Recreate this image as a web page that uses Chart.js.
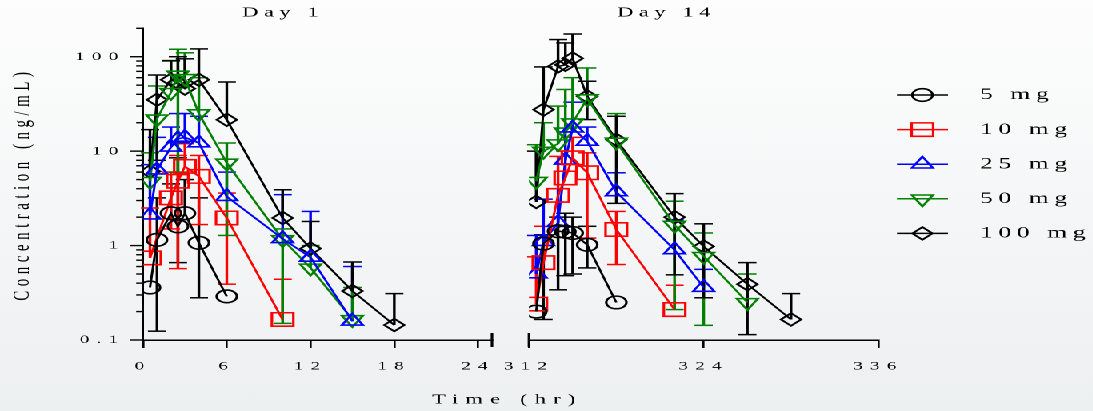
<!DOCTYPE html>
<html>
<head>
<meta charset="utf-8">
<script src="https://cdn.jsdelivr.net/npm/chart.js@4.4.1/dist/chart.umd.min.js"></script>
<style>
  html, body { margin: 0; padding: 0; }
  body { width: 1093px; height: 411px; overflow: hidden; background: linear-gradient(#fdfdfd, #edf0f1); }
  /* the reference is stretched sideways, so the plot is drawn narrow and widened */
  #wrap { position: absolute; left: 0; top: 0; width: 683px; height: 411px; transform: scaleX(1.6); transform-origin: 0 0; }
  #wrap canvas { position: absolute; left: 0; top: 0; }
</style>
</head>
<body>
<div id="wrap">
  <canvas id="day1" width="683" height="411"></canvas>
  <canvas id="day14" width="683" height="411"></canvas>
</div>
<script>
const doseLabels = ['5 mg', '10 mg', '25 mg', '50 mg', '100 mg'];
const doseColors = ['#000000', '#ff0000', '#0000ff', '#008000', '#000000'];
const doseMarkers = ['circle', 'rect', 'triangle', 'triangle', 'rectRot'];
const markerRotation = [0, 0, 0, 180, 0];
const markerRadius = [6.3, 9.5, 7.6, 7.6, 6.3];

const day1Hours = [0.5, 1, 2, 2.5, 3, 4, 6, 10, 12, 15, 18];
const day14Hours = [312.5, 313, 314, 314.5, 315, 316, 318, 322, 324, 327, 330];

// mean concentration (ng/mL), one row per dose
const day1Mean = [
  [0.36, 1.15, 2.2, 1.6, 2.2, 1.07, 0.29, null, null, null, null],
  [0.74, null, 3.2, 4.8, 6.9, 5.4, 1.96, 0.165, null, null, null],
  [2.1, 6.3, 11, 13.5, 14, 12.2, 3.3, 1.18, 0.75, 0.158, null],
  [4.8, 22, 42, 64, 59, 25, 7.5, 1.16, 0.58, 0.165, null],
  [6.1, 35, 57, 53, 46, 57, 21.5, 1.96, 0.93, 0.33, 0.144]
];
const day1Upper = [
  [null, 3.2, 4.5, 8.5, 5, 3.2, null, null, null, null, null],
  [2.5, null, 6, 9, 12, 9, 3.6, 0.44, null, null, null],
  [7.2, 14, 18, 25, 25, 23.4, 6, 3.46, 2.3, 0.6, null],
  [9.6, 49, 90, 120, 110, 60, 12.2, 1.5, 1.0, 0.36, null],
  [16.9, 64, 91, 100, 95, 121, 54, 3.9, 1.8, 0.67, 0.31]
];
const day1Lower = [
  [null, 0.124, null, 0.66, null, 0.28, null, null, null, null, null],
  [null, null, 1.5, 0.57, null, 1.67, 0.39, null, null, null, null],
  [null, null, null, null, null, null, null, null, null, null, null],
  [null, null, null, 6, null, null, 1.28, 0.15, null, null, null],
  [null, 8, null, null, null, null, null, null, null, null, null]
];

const day14Mean = [
  [0.2, 1.05, 1.42, 1.4, 1.36, 1.02, 0.25, null, null, null, null],
  [0.24, 0.66, 3.4, 5.2, 8.5, 5.9, 1.48, 0.21, null, null, null],
  [0.5, 1.1, 1.75, 8, 17.5, 12.7, 3.7, 0.9, 0.36, null, null],
  [4.8, 10, 12, 16, 20, 36, 12.5, 1.65, 0.77, 0.25, null],
  [2.9, 27.5, 79, 82, 96, 38, 13.2, 2.0, 0.98, 0.39, 0.165]
];
const day14Upper = [
  [null, 1.3, 2.0, 2.2, 2.0, 1.6, null, null, null, null, null],
  [0.76, 1.6, 8.8, 10, 14, 9.6, 2.3, 0.38, null, null, null],
  [1.28, 3.1, 4, 16, 33, 18, 5.9, 1.88, 0.56, null, null],
  [11.7, 20, 30, 45, 60, 76, 25, 2.95, 1.36, 0.5, null],
  [10, 78, 152, 140, 174, 55, 23.4, 3.55, 1.7, 0.66, 0.31]
];
const day14Lower = [
  [null, 0.165, 0.34, 0.48, 0.5, 0.58, null, null, null, null, null],
  [null, null, null, null, null, 1.2, 0.63, null, null, null, null],
  [null, null, null, null, null, null, null, null, null, null, null],
  [null, null, null, null, null, null, null, 0.21, 0.143, null, null],
  [null, null, null, null, null, 21.6, 2.8, 0.49, 0.28, 0.114, null]
];

const day1Ticks = [0, 6, 12, 18, 24];
const day14Ticks = [312, 324, 336];
const yMajorTicks = [0.1, 1, 10, 100];
const yMajorLabels = ['0.1', '1', '10', '100'];

const serif = "'Liberation Serif', 'Times New Roman', serif";
const W = 683;

function yTickValues() {
  const out = [];
  yMajorTicks.forEach(d => {
    for (let k = 1; k <= 9; k++) {
      if (d * k <= 200) out.push(d * k);
    }
  });
  return out;
}

function makeSets(times, mean) {
  return doseLabels.map((label, i) => ({
    label: label,
    data: times.map((t, j) => ({ x: t, y: mean[i][j] })),
    borderColor: doseColors[i],
    borderWidth: 1.5,
    pointStyle: doseMarkers[i],
    pointRotation: markerRotation[i],
    pointRadius: markerRadius[i],
    pointBorderWidth: 1.6,
    pointBorderColor: doseColors[i],
    pointBackgroundColor: 'rgba(0,0,0,0)',
    spanGaps: true,
    tension: 0
  }));
}

function drawLabel(ctx, text, x, y, size, spacing, align) {
  ctx.save();
  ctx.font = size + 'px ' + serif;
  ctx.letterSpacing = spacing + 'px';
  ctx.fillStyle = '#000';
  ctx.textAlign = align;
  ctx.textBaseline = 'middle';
  ctx.fillText(text, x, y);
  ctx.restore();
}

const spacingPlugin = {
  id: 'spacing',
  beforeLayout(chart) { chart.ctx.letterSpacing = '4.5px'; },
  beforeDraw(chart) { chart.ctx.letterSpacing = '4.5px'; }
};

function errorBars(times, mean, upper, lower) {
  return {
    id: 'errorBars',
    beforeDatasetsDraw(chart) {
      const { ctx, scales: { x, y } } = chart;
      ctx.save();
      doseLabels.forEach((label, i) => {
        ctx.strokeStyle = doseColors[i];
        times.forEach((t, j) => {
          const m = mean[i][j];
          if (m == null) return;
          const px = x.getPixelForValue(t);
          const pm = y.getPixelForValue(m);
          [upper[i][j], lower[i][j]].forEach(v => {
            if (v == null) return;
            const pv = y.getPixelForValue(v);
            ctx.lineWidth = 1.7;
            ctx.beginPath();
            ctx.moveTo(px, pm);
            ctx.lineTo(px, pv);
            ctx.stroke();
            ctx.lineWidth = 1.5;
            ctx.beginPath();
            ctx.moveTo(px - 5.7, pv);
            ctx.lineTo(px + 5.7, pv);
            ctx.stroke();
          });
        });
      });
      ctx.restore();
    }
  };
}

function panelDecor(cfg) {
  return {
    id: 'panelDecor',
    afterDraw(chart) {
      const { ctx, scales: { x, y } } = chart;
      const bottom = chart.chartArea.bottom;
      ctx.save();
      ctx.strokeStyle = '#000';
      ctx.lineWidth = 1.6;
      const bx = x.getPixelForValue(cfg.breakAt);
      ctx.beginPath();
      ctx.moveTo(bx, bottom - 7);
      ctx.lineTo(bx, bottom + 7);
      ctx.stroke();

      if (cfg.yTicks) {
        const left = chart.chartArea.left;
        ctx.lineWidth = 1.4;
        yTickValues().forEach(v => {
          const major = yMajorTicks.some(m => Math.abs(m - v) < 1e-9);
          const py = y.getPixelForValue(v);
          ctx.beginPath();
          ctx.moveTo(left - (major ? 8.3 : 4.3), py);
          ctx.lineTo(left, py);
          ctx.stroke();
        });
      }

      drawLabel(ctx, cfg.title, cfg.titleX, 13, 14, 3.5, 'center');

      if (cfg.legend) {
        doseLabels.forEach((label, i) => {
          const ly = 95 + i * 34.6;
          ctx.strokeStyle = doseColors[i];
          ctx.lineWidth = 1.5;
          ctx.beginPath();
          ctx.moveTo(560.6, ly);
          ctx.lineTo(592.5, ly);
          ctx.stroke();
          ctx.fillStyle = 'rgba(0,0,0,0)';
          ctx.lineWidth = 1.6;
          Chart.helpers.drawPoint(ctx, {
            pointStyle: doseMarkers[i],
            rotation: markerRotation[i],
            radius: markerRadius[i],
            borderWidth: 1.6
          }, 576.5, ly);
          drawLabel(ctx, label, 612.5, ly, 16, 3.5, 'left');
        });
        drawLabel(ctx, 'Time (hr)', 317, 400, 14, 4.5, 'center');
      }
      ctx.restore();
    }
  };
}

function xScale(min, max, ticks) {
  return {
    type: 'linear',
    min: min,
    max: max,
    afterBuildTicks: s => { s.ticks = ticks.map(v => ({ value: v })); },
    afterFit: s => { s.height = 41; },
    grid: { display: true, drawOnChartArea: false, drawTicks: true, tickLength: 8, color: '#000', lineWidth: 1.3 },
    border: { display: true, color: '#000', width: 1.5 },
    ticks: {
      autoSkip: false, maxRotation: 0, padding: 11, color: '#000',
      font: { family: serif, size: 12 },
      callback: v => String(v)
    }
  };
}

function yScale(show) {
  return {
    type: 'logarithmic',
    display: show,
    min: 0.1,
    max: 200,
    afterBuildTicks: s => { s.ticks = yTickValues().map(v => ({ value: v })); },
    afterFit: s => { s.width = show ? 89.4 : 0; },
    grid: { display: false, drawTicks: true, tickLength: 8 },
    border: { display: true, color: '#000', width: 1.5 },
    ticks: {
      autoSkip: false, padding: 3, color: '#000',
      font: { family: serif, size: 12 },
      callback: v => {
        const i = yMajorTicks.findIndex(m => Math.abs(m - v) < 1e-9);
        return i >= 0 ? yMajorLabels[i] : '';
      }
    },
    title: {
      display: true, text: 'Concentration (ng/mL)', color: '#000',
      font: { family: serif, size: 15 }, padding: { top: 5, bottom: 0 }
    }
  };
}

const commonPlugins = { legend: { display: false }, tooltip: { enabled: false } };

new Chart(document.getElementById('day1'), {
  type: 'line',
  data: { datasets: makeSets(day1Hours, day1Mean) },
  options: {
    responsive: false,
    animation: false,
    devicePixelRatio: 2,
    layout: { padding: { left: 0, right: W - 307.5, top: 28.3, bottom: 30 } },
    plugins: commonPlugins,
    scales: { x: xScale(0, 25, day1Ticks), y: yScale(true) }
  },
  plugins: [
    spacingPlugin,
    errorBars(day1Hours, day1Mean, day1Upper, day1Lower),
    panelDecor({ breakAt: 25, yTicks: true, title: 'Day 1', titleX: 177, legend: false })
  ]
});

new Chart(document.getElementById('day14'), {
  type: 'line',
  data: { datasets: makeSets(day14Hours, day14Mean) },
  options: {
    responsive: false,
    animation: false,
    devicePixelRatio: 2,
    layout: { padding: { left: 330.6, right: W - 549, top: 28.3, bottom: 30 } },
    plugins: commonPlugins,
    scales: { x: xScale(312, 336, day14Ticks), y: yScale(false) }
  },
  plugins: [
    spacingPlugin,
    errorBars(day14Hours, day14Mean, day14Upper, day14Lower),
    panelDecor({ breakAt: 312, yTicks: false, title: 'Day 14', titleX: 416.6, legend: true })
  ]
});
</script>
</body>
</html>
